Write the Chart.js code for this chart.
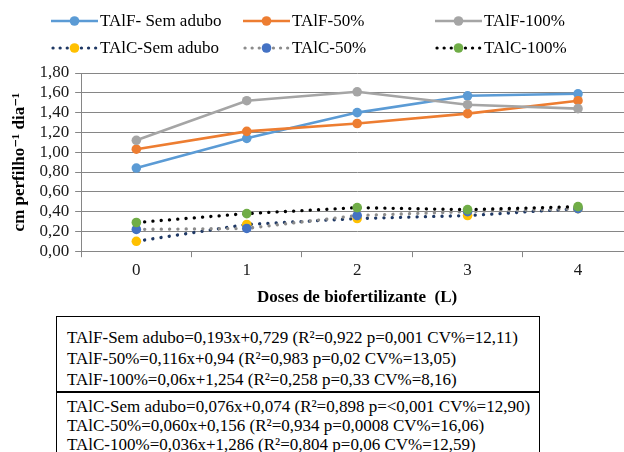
<!DOCTYPE html>
<html>
<head>
<meta charset="utf-8">
<script src="https://cdn.jsdelivr.net/npm/chart.js@4.4.1/dist/chart.umd.min.js"></script>
<style>
  body { margin: 0; background: #fff; overflow: hidden; }
  #wrap { position: relative; width: 624px; height: 452px; overflow: hidden; font-family: "Liberation Serif", "Times New Roman", Times, "DejaVu Serif", serif; color: #000; }
  #plot { position: absolute; left: 0; top: 0; width: 638px; height: 312px; }
  .leg { position: absolute; display: flex; align-items: center; font-size: 17px; white-space: nowrap; height: 20px; }
  .leg svg { margin-right: 2px; }
  .box { position: absolute; left: 56px; width: 484px; border: 1.5px solid #000; font-size: 17px; white-space: nowrap; box-sizing: border-box; padding-left: 10px; }
</style>
</head>
<body>
<div id="wrap">
  <div id="plot"><canvas id="grafico"></canvas></div>
  <div id="legenda"></div>
  <div class="box" id="box1" style="top:316px;height:77px;padding-top:10px;line-height:21px;"></div>
  <div class="box" id="box2" style="top:391px;height:80px;padding-top:5px;line-height:19px;"></div>
</div>
<script>
// dosi (L) e serie
const doses = ['0', '1', '2', '3', '4'];
const seriesNames = ['TAlF- Sem adubo', 'TAlF-50%', 'TAlF-100%', 'TAlC-Sem adubo', 'TAlC-50%', 'TAlC-100%'];

const talfSemAdubo = [0.84, 1.14, 1.40, 1.57, 1.59];
const talf50 = [1.03, 1.21, 1.29, 1.39, 1.52];
const talf100 = [1.12, 1.52, 1.61, 1.48, 1.44];
const talcSemAdubo = [0.10, 0.27, 0.33, 0.36, 0.43];
const talc50 = [0.22, 0.23, 0.36, 0.40, 0.43];
const talc100 = [0.29, 0.38, 0.44, 0.42, 0.45];

const yTicks = [0, 0.2, 0.4, 0.6, 0.8, 1.0, 1.2, 1.4, 1.6, 1.8];

const equacoesTAlF = [
    'TAlF-Sem adubo=0,193x+0,729 (R²=0,922 p=0,001 CV%=12,11)',
    'TAlF-50%=0,116x+0,94 (R²=0,983 p=0,02 CV%=13,05)',
    'TAlF-100%=0,06x+1,254 (R²=0,258 p=0,33 CV%=8,16)'
];
const equacoesTAlC = [
    'TAlC-Sem adubo=0,076x+0,074 (R²=0,898 p=<0,001 CV%=12,90)',
    'TAlC-50%=0,060x+0,156 (R²=0,934 p=0,0008 CV%=16,06)',
    'TAlC-100%=0,036x+1,286 (R²=0,804 p=0,06 CV%=12,59)'
];

// stile: colore linea, colore marker, tratteggiata?
const styles = [
    { line: '#5B9BD5', point: '#5B9BD5', dotted: false },
    { line: '#ED7D31', point: '#ED7D31', dotted: false },
    { line: '#A5A5A5', point: '#A5A5A5', dotted: false },
    { line: '#1F3864', point: '#FFC000', dotted: true },
    { line: '#8C8C8C', point: '#4472C4', dotted: true },
    { line: '#000000', point: '#70AD47', dotted: true }
];
const allData = [talfSemAdubo, talf50, talf100, talcSemAdubo, talc50, talc100];

const datasets = allData.map((d, i) => {
    const s = styles[i];
    return {
        label: seriesNames[i],
        data: d,
        borderColor: s.line,
        backgroundColor: s.point,
        borderWidth: s.dotted ? 3.3 : 2.6,
        borderDash: s.dotted ? [0.1, 8.2] : [],
        borderCapStyle: s.dotted ? 'round' : 'butt',
        pointRadius: 4.8,
        pointBorderWidth: 0,
        pointBackgroundColor: s.point,
        pointBorderColor: s.point,
        tension: 0,
        fill: false,
        order: 6 - i // come Excel: l'ultima serie sopra
    };
});

const fmt = v => v.toFixed(2).replace('.', ',');

Chart.defaults.font.family = '"Liberation Serif", "Times New Roman", Times, "DejaVu Serif", serif';
Chart.defaults.font.size = 17;
Chart.defaults.color = '#1a1a1a';

new Chart(document.getElementById('grafico'), {
    type: 'line',
    data: { labels: doses, datasets: datasets },
    options: {
        responsive: true,
        maintainAspectRatio: false,
        animation: false,
        devicePixelRatio: 1,
        layout: { padding: { left: 5, right: 3, top: 73, bottom: 0 } },
        plugins: {
            legend: { display: false },
            tooltip: { enabled: false }
        },
        scales: {
            x: {
                offset: true,
                grid: { offset: true, drawOnChartArea: false, color: '#868686', tickLength: 6 },
                border: { color: '#868686' },
                ticks: { padding: 3 },
                title: {
                    display: true,
                    text: 'Doses de biofertilizante  (L)',
                    font: { weight: 'bold', size: 17 },
                    color: '#000',
                    padding: { top: 4, bottom: 4 }
                }
            },
            y: {
                min: 0,
                max: 1.8,
                afterBuildTicks: axis => { axis.ticks = yTicks.map(v => ({ value: v })); },
                grid: { color: '#868686', tickLength: 6 },
                border: { color: '#868686' },
                ticks: { padding: 6, autoSkip: false, callback: v => fmt(v) },
                title: {
                    display: true,
                    text: 'cm perfilho⁻¹ dia⁻¹',
                    font: { weight: 'bold', size: 17 },
                    color: '#000',
                    padding: { top: 4, bottom: 4 }
                }
            }
        }
    }
});

// legenda HTML a tre colonne (come Excel)
const legCols = [51, 243, 435];
const legRows = [21, 48];
const legenda = document.getElementById('legenda');
seriesNames.forEach((name, i) => {
    const s = styles[i];
    const dash = s.dotted ? 'stroke-dasharray="0.1 7" stroke-linecap="round" stroke-width="3.2"' : 'stroke-width="2.6"';
    const item = document.createElement('div');
    item.className = 'leg';
    item.style.left = legCols[i % 3] + 'px';
    item.style.top = (legRows[Math.floor(i / 3)] - 10) + 'px';
    item.innerHTML =
        '<svg width="47" height="12"><line x1="' + (s.dotted ? 2 : 0) + '" y1="6" x2="47" y2="6" stroke="' + s.line + '" ' + dash + '/>' +
        '<circle cx="23.5" cy="6" r="4.8" fill="' + s.point + '"/></svg>' +
        '<span>' + name + '</span>';
    legenda.appendChild(item);
});

document.getElementById('box1').innerHTML = equacoesTAlF.map(t => '<div>' + t + '</div>').join('');
document.getElementById('box2').innerHTML = equacoesTAlC.map(t => '<div>' + t + '</div>').join('');
</script>
</body>
</html>
